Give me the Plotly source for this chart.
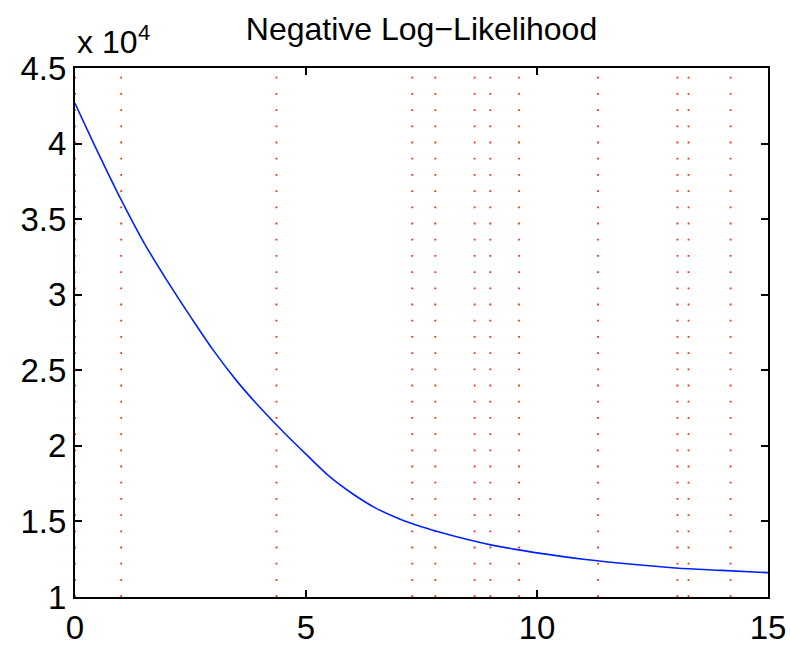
import plotly.graph_objects as go

# Curve (negative log-likelihood)
iter_x = [0, 0.5, 1, 1.5, 2, 2.5, 3, 3.5, 4, 4.5, 5, 5.5, 6, 6.5, 7, 7.5, 8, 8.5, 9, 9.5, 10, 11, 12, 13, 14, 15]
nll = [42670, 39400, 36270, 33400, 30900, 28550, 26300, 24300, 22550, 20950, 19450, 18000, 16850, 15900, 15200,
       14650, 14200, 13800, 13450, 13170, 12920, 12500, 12180, 11920, 11760, 11610]

# Vertical dotted event markers
events = [0, 1.0, 4.36, 7.3, 7.8, 8.65, 8.99, 9.61, 11.32, 13.04, 13.28, 14.19]

y_ticks = [10000, 15000, 20000, 25000, 30000, 35000, 40000, 45000]
y_tick_labels = ["1", "1.5", "2", "2.5", "3", "3.5", "4", "4.5"]
x_ticks = [0, 5, 10, 15]

FONT = "Liberation Sans, Arial, Helvetica, sans-serif"

fig = go.Figure()
for e in events:
    fig.add_trace(go.Scatter(
        x=[e, e], y=[10000, 45000], mode="lines",
        line=dict(color="#ff2a10", width=1.8, dash="1.8px,14.4px"),
        hoverinfo="skip", showlegend=False))

fig.add_trace(go.Scatter(
    x=iter_x, y=nll, mode="lines", line=dict(color="#0022ff", width=1.6, shape="spline", smoothing=1.0),
    showlegend=False))

axis_common = dict(
    showline=True, linecolor="black", linewidth=2, mirror="ticks",
    ticks="inside", ticklen=7, tickwidth=1.5, tickcolor="black",
    showgrid=False, zeroline=False, layer="below traces", automargin=False,
    tickfont=dict(family=FONT, size=33, color="black"),
)

fig.update_layout(
    width=790, height=645,
    margin=dict(l=75, r=22, t=68, b=48),
    paper_bgcolor="white", plot_bgcolor="white",
    title=dict(text="Negative Log\u2212Likelihood", x=0.5, xref="paper", xanchor="center",
               y=1 - 29 / 645, yref="container", yanchor="middle",
               font=dict(family=FONT, size=32, color="black")),
    xaxis=dict(range=[0, 15], tickvals=x_ticks, **axis_common),
    yaxis=dict(range=[10000, 45000], tickvals=y_ticks, ticktext=y_tick_labels, **axis_common),
    annotations=[
        dict(text="x 10", xref="paper", yref="paper", x=0, y=1,
             xanchor="left", yanchor="bottom", yshift=6, showarrow=False,
             font=dict(family=FONT, size=32, color="black")),
        dict(text="4", xref="paper", yref="paper", x=(136 - 75) / 693, y=1,
             xanchor="left", yanchor="bottom", yshift=21, showarrow=False,
             font=dict(family=FONT, size=22, color="black")),
    ],
)

fig.write_html("out.html")
